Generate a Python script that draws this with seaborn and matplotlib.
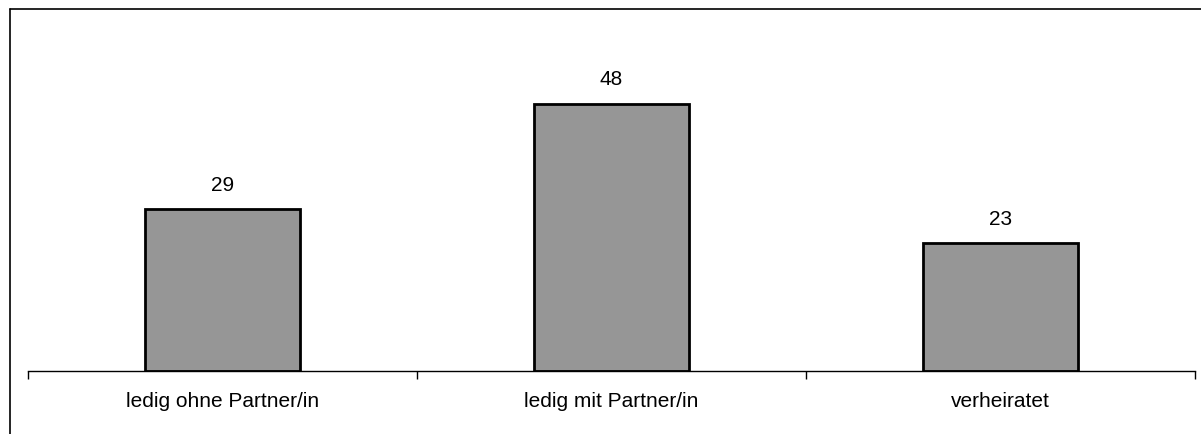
import matplotlib
matplotlib.use('Agg')
import matplotlib.pyplot as plt
import seaborn as sns
from matplotlib.lines import Line2D

# data
categories = ['ledig ohne Partner/in', 'ledig mit Partner/in', 'verheiratet']
values = [29, 48, 23]

sns.set_style('white')
plt.rcParams['font.family'] = ['Liberation Sans', 'DejaVu Sans']
plt.rcParams['text.color'] = 'black'
plt.rcParams['xtick.color'] = 'black'

W, H = 1201, 434
fig = plt.figure(figsize=(W / 100, H / 100), dpi=100)
ax = fig.add_axes([28 / W, (H - 371) / H, (1195 - 28) / W, (371 - 9) / H])

sns.barplot(x=categories, y=values, color='#969696', edgecolor='black',
            linewidth=2, width=0.4, saturation=1, ax=ax)

for p, v in zip(ax.patches, values):
    ax.text(p.get_x() + p.get_width() / 2, v + 3.3, str(v),
            ha='center', va='baseline', fontsize=15, color='black')

ax.set_xlim(-0.5, len(categories) - 0.5)
ax.set_ylim(0, 65)
ax.set_yticks([])
ax.set_xticks(range(len(categories)))
ax.set_xticklabels(categories, fontsize=15, color='black')
ax.set_xticks([i - 0.5 for i in range(len(categories) + 1)], minor=True)
ax.tick_params(axis='x', which='major', length=0, pad=15)
ax.tick_params(axis='x', which='minor', length=6, width=1, color='black', bottom=True)
for s in ['top', 'right', 'left']:
    ax.spines[s].set_visible(False)
ax.spines['bottom'].set_color('black')
ax.spines['bottom'].set_linewidth(1)
ax.set_xlabel('')
ax.set_ylabel('')

# outer frame (left and top edges)
fig.add_artist(Line2D([10 / W, 10 / W], [0, (H - 9) / H], color='black', lw=1.2))
fig.add_artist(Line2D([10 / W, 1], [(H - 9) / H, (H - 9) / H], color='black', lw=1.2))

fig.savefig('out.png', dpi=100)
